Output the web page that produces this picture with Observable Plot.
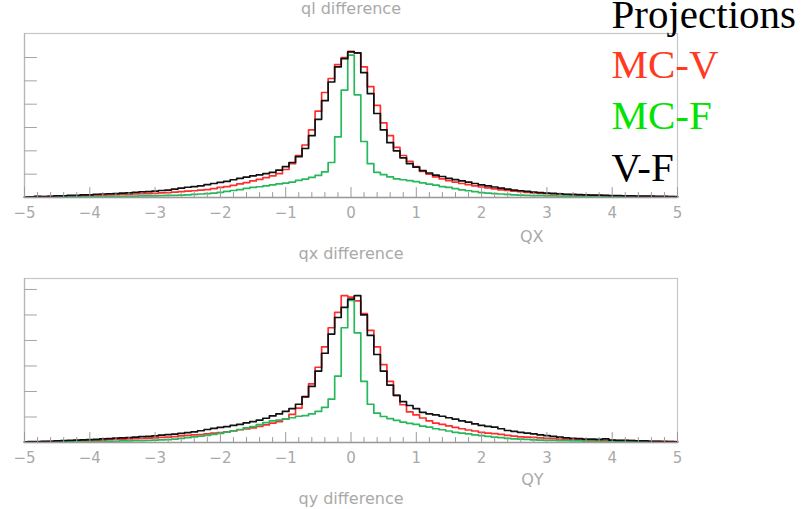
<!DOCTYPE html>
<html>
<head>
<meta charset="utf-8">
<script src="https://cdn.jsdelivr.net/npm/d3@7"></script>
<script src="https://cdn.jsdelivr.net/npm/@observablehq/plot@0.6"></script>
<style>
  body { margin: 0; background: #fff; }
  #chart { position: relative; width: 810px; height: 509px; overflow: hidden; background: #fff; }
  #chart svg { position: absolute; left: 0; overflow: visible; }
</style>
</head>
<body>
<div id="chart"></div>
<script>
// Histogram bin centres: 0.1 wide bins from -5 to 5
const binCenters = d3.range(-50, 51).map(k => k / 10);
const xTicks = [-5, -4, -3, -2, -1, 0, 1, 2, 3, 4, 5];
const xMinorTicks = d3.range(-25, 26).map(k => k / 5).filter(v => !Number.isInteger(v));
const yTicks = [1, 2, 3, 4, 5, 6];

const seriesNames = ["MC-V", "MC-F", "V-F"];
const lineColors = ["#ff2e2e", "#27b85c", "#111111"];
const legendTitle = "Projections";
const legendColors = ["#ff3a1f", "#00e400", "#000000"];

// qx difference
const qxMCV = [
  0.02, 0.03, 0.04, 0.04, 0.05, 0.06, 0.06, 0.07, 0.07, 0.08,
  0.09, 0.09, 0.10, 0.11, 0.12, 0.13, 0.14, 0.15, 0.16, 0.17,
  0.18, 0.20, 0.21, 0.23, 0.25, 0.27, 0.29, 0.32, 0.34, 0.38,
  0.43, 0.47, 0.52, 0.58, 0.64, 0.71, 0.78, 0.85, 0.93, 1.02,
  1.20, 1.45, 1.80, 2.25, 2.90, 3.70, 4.50, 5.10, 5.70, 6.00,
  6.26,
  6.20, 5.60, 4.75, 3.95, 3.20, 2.65, 2.15, 1.80, 1.55, 1.32,
  1.12, 1.00, 0.88, 0.80, 0.72, 0.66, 0.60, 0.55, 0.50, 0.45,
  0.41, 0.37, 0.33, 0.30, 0.27, 0.25, 0.22, 0.20, 0.18, 0.17,
  0.15, 0.14, 0.12, 0.11, 0.10, 0.10, 0.09, 0.08, 0.08, 0.07,
  0.07, 0.06, 0.06, 0.05, 0.05, 0.05, 0.04, 0.04, 0.04, 0.03
];
const qxMCF = [
  0.01, 0.01, 0.02, 0.02, 0.02, 0.02, 0.03, 0.03, 0.03, 0.03,
  0.04, 0.04, 0.04, 0.05, 0.05, 0.05, 0.06, 0.06, 0.07, 0.07,
  0.07, 0.08, 0.09, 0.09, 0.10, 0.11, 0.13, 0.15, 0.17, 0.19,
  0.22, 0.26, 0.30, 0.34, 0.39, 0.43, 0.46, 0.50, 0.54, 0.58,
  0.62, 0.66, 0.73, 0.79, 0.86, 0.95, 1.10, 1.50, 2.60, 4.60,
  6.10,
  4.40, 2.40, 1.45, 1.08, 0.98, 0.88, 0.80, 0.76, 0.72, 0.68,
  0.63, 0.57, 0.53, 0.47, 0.43, 0.38, 0.33, 0.29, 0.25, 0.21,
  0.19, 0.17, 0.15, 0.13, 0.11, 0.10, 0.09, 0.08, 0.08, 0.07,
  0.07, 0.06, 0.06, 0.05, 0.05, 0.05, 0.04, 0.04, 0.04, 0.03,
  0.03, 0.03, 0.03, 0.02, 0.02, 0.02, 0.02, 0.02, 0.01, 0.01
];
const qxVF = [
  0.02, 0.03, 0.05, 0.04, 0.05, 0.07, 0.07, 0.09, 0.09, 0.11,
  0.11, 0.14, 0.15, 0.16, 0.17, 0.19, 0.20, 0.22, 0.24, 0.25,
  0.27, 0.30, 0.32, 0.36, 0.40, 0.44, 0.47, 0.50, 0.55, 0.60,
  0.65, 0.69, 0.76, 0.82, 0.87, 0.93, 0.97, 1.02, 1.08, 1.17,
  1.32, 1.50, 1.75, 2.10, 2.65, 3.35, 4.15, 4.95, 5.60, 5.95,
  6.24,
  6.20, 5.35, 4.45, 3.60, 2.90, 2.35, 2.00, 1.70, 1.45, 1.30,
  1.15, 1.05, 0.96, 0.90, 0.82, 0.77, 0.71, 0.66, 0.60, 0.54,
  0.50, 0.45, 0.40, 0.36, 0.32, 0.29, 0.26, 0.23, 0.21, 0.19,
  0.18, 0.16, 0.14, 0.13, 0.12, 0.11, 0.10, 0.10, 0.09, 0.08,
  0.08, 0.07, 0.07, 0.06, 0.06, 0.06, 0.05, 0.05, 0.04, 0.04
];

// qy difference
const qyMCV = [
  0.02, 0.03, 0.03, 0.04, 0.05, 0.05, 0.06, 0.06, 0.07, 0.08,
  0.08, 0.09, 0.09, 0.11, 0.12, 0.13, 0.14, 0.15, 0.16, 0.17,
  0.18, 0.20, 0.21, 0.23, 0.26, 0.28, 0.30, 0.31, 0.34, 0.37,
  0.39, 0.42, 0.45, 0.50, 0.53, 0.57, 0.63, 0.69, 0.76, 0.82,
  0.92, 1.10, 1.35, 1.78, 2.30, 2.95, 3.75, 4.50, 5.10, 5.76,
  5.70,
  5.55, 5.05, 4.40, 3.75, 3.05, 2.40, 1.85, 1.48, 1.20, 1.08,
  0.96, 0.85, 0.76, 0.71, 0.65, 0.59, 0.54, 0.49, 0.45, 0.40,
  0.37, 0.35, 0.32, 0.28, 0.25, 0.22, 0.21, 0.20, 0.18, 0.16,
  0.15, 0.13, 0.12, 0.10, 0.10, 0.09, 0.09, 0.09, 0.08, 0.08,
  0.07, 0.07, 0.07, 0.06, 0.06, 0.05, 0.05, 0.05, 0.04, 0.04
];
const qyMCF = [
  0.01, 0.01, 0.02, 0.02, 0.02, 0.02, 0.03, 0.03, 0.03, 0.03,
  0.04, 0.04, 0.04, 0.05, 0.05, 0.06, 0.06, 0.07, 0.07, 0.08,
  0.09, 0.10, 0.11, 0.13, 0.16, 0.19, 0.22, 0.25, 0.28, 0.32,
  0.36, 0.41, 0.46, 0.51, 0.57, 0.62, 0.70, 0.78, 0.85, 0.88,
  0.92, 0.97, 1.03, 1.05, 1.12, 1.22, 1.38, 1.70, 2.60, 4.50,
  5.57,
  4.30, 2.40, 1.50, 1.15, 1.02, 0.94, 0.87, 0.80, 0.75, 0.71,
  0.64, 0.60, 0.54, 0.50, 0.45, 0.40, 0.37, 0.34, 0.30, 0.27,
  0.24, 0.21, 0.19, 0.16, 0.14, 0.13, 0.12, 0.10, 0.09, 0.08,
  0.08, 0.07, 0.07, 0.06, 0.06, 0.05, 0.05, 0.05, 0.04, 0.04,
  0.04, 0.03, 0.03, 0.03, 0.03, 0.02, 0.02, 0.02, 0.02, 0.01
];
const qyVF = [
  0.03, 0.04, 0.04, 0.05, 0.05, 0.06, 0.07, 0.08, 0.09, 0.10,
  0.11, 0.12, 0.14, 0.15, 0.17, 0.18, 0.19, 0.21, 0.23, 0.24,
  0.26, 0.29, 0.31, 0.33, 0.36, 0.39, 0.42, 0.46, 0.51, 0.55,
  0.59, 0.62, 0.67, 0.71, 0.77, 0.82, 0.88, 0.95, 1.04, 1.12,
  1.22, 1.33, 1.50, 1.80, 2.20, 2.80, 3.50, 4.25, 4.90, 5.30,
  5.62,
  5.76, 5.00, 4.20, 3.45, 2.80, 2.25, 1.85, 1.60, 1.45, 1.33,
  1.18, 1.12, 1.08, 1.03, 0.97, 0.92, 0.85, 0.80, 0.73, 0.67,
  0.63, 0.60, 0.54, 0.47, 0.44, 0.40, 0.37, 0.34, 0.30, 0.27,
  0.24, 0.21, 0.18, 0.16, 0.15, 0.13, 0.13, 0.12, 0.14, 0.09,
  0.08, 0.08, 0.07, 0.06, 0.06, 0.05, 0.05, 0.04, 0.04, 0.03
];

const GRAY_TEXT = "#a9a9a9";
const SANS = "DejaVu Sans, sans-serif";
const SERIF = "Liberation Serif, Times New Roman, serif";

// straight tick drawn upward from its anchor point
const tickShape = { draw(context, l) { context.moveTo(0, 0); context.lineTo(0, -l); } };

function histRows(series) {
  return series.flatMap((values, s) =>
    binCenters.map((x, i) => ({ series: seriesNames[s], x, y: values[i] })));
}

function fmt(d) { return d < 0 ? "\u2212" + Math.abs(d) : String(d); }

function panel({ values, yMax, height, marginBottom, topTitle, bottomTitle, axisTitle, axisTitleDy, legend }) {
  const rows = histRows(values);
  const marks = [
    Plot.frame({ stroke: "#c6c6c6", strokeWidth: 1.2 }),
    // histogram outlines (red, green, then black on top)
    ...seriesNames.map((name, s) =>
      Plot.line(rows.filter(r => r.series === name), {
        x: "x", y: "y", curve: "step", stroke: lineColors[s], strokeWidth: 1.7
      })),
    Plot.ruleY([0], { stroke: "#9a9a9a", strokeWidth: 1.3 }),
    Plot.ruleX([-5], { stroke: "#b5b5b5", strokeWidth: 1.2 }),
    // x ticks: majors and minors pointing into the frame
    Plot.vector(xTicks, { x: d => d, frameAnchor: "bottom", length: 10, anchor: "start", shape: tickShape, stroke: "#9a9a9a", strokeWidth: 1 }),
    Plot.vector(xMinorTicks, { x: d => d, frameAnchor: "bottom", length: 5, anchor: "start", shape: tickShape, stroke: "#9a9a9a", strokeWidth: 1 }),
    // y ticks
    Plot.vector(yTicks, { y: d => d, frameAnchor: "left", rotate: 90, length: 12, anchor: "start", shape: tickShape, stroke: "#a5a5a5", strokeWidth: 1 }),
    Plot.text(xTicks, { x: d => d, text: fmt, frameAnchor: "bottom", dy: 20, lineAnchor: "bottom", fill: GRAY_TEXT, fontSize: 15, fontFamily: SANS }),
    Plot.text([topTitle], { frameAnchor: "top", dy: -20, lineAnchor: "bottom", fill: GRAY_TEXT, fontSize: 16, fontFamily: SANS }),
    Plot.text([axisTitle], { frameAnchor: "bottom-right", dx: -134, dy: axisTitleDy, lineAnchor: "bottom", textAnchor: "end", fill: GRAY_TEXT, fontSize: 16, fontFamily: SANS })
  ];
  if (bottomTitle) {
    marks.push(Plot.text([bottomTitle], { frameAnchor: "bottom", dy: 61, lineAnchor: "bottom", fill: GRAY_TEXT, fontSize: 16, fontFamily: SANS }));
  }
  if (legend) {
    const lines = [legendTitle, ...seriesNames];
    const colors = ["#000000", ...legendColors];
    const offsets = [-6, 44, 95, 147];
    lines.forEach((t, i) => {
      marks.push(Plot.text([t], {
        frameAnchor: "top-left", dx: 587, dy: offsets[i], lineAnchor: "bottom", textAnchor: "start",
        fill: colors[i], fontSize: 41, fontFamily: SERIF
      }));
    });
  }
  return Plot.plot({
    width: 810,
    height,
    marginLeft: 24,
    marginRight: 133,
    marginTop: 33,
    marginBottom,
    style: { background: "transparent" },
    x: { domain: [-5, 5], axis: null },
    y: { domain: [0, yMax], axis: null },
    marks
  });
}

const chart = document.getElementById("chart");

const qxPlot = panel({
  values: [qxMCV, qxMCF, qxVF],
  yMax: 7.03, height: 245, marginBottom: 48,
  topTitle: "ql difference", axisTitle: "QX", axisTitleDy: 44, legend: true
});
qxPlot.style.top = "0px";

const qyPlot = panel({
  values: [qyMCV, qyMCF, qyVF],
  yMax: 6.43, height: 264, marginBottom: 67,
  topTitle: "qx difference", bottomTitle: "qy difference", axisTitle: "QY", axisTitleDy: 42
});
qyPlot.style.top = "245px";

chart.appendChild(qyPlot);
chart.appendChild(qxPlot);
</script>
</body>
</html>
